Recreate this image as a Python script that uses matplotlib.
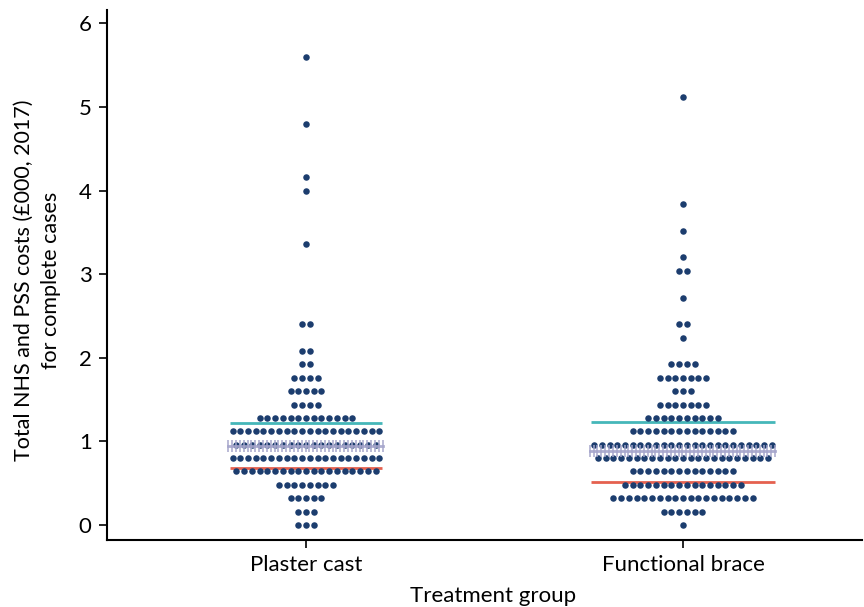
import matplotlib
matplotlib.use("Agg")
import matplotlib.pyplot as plt
import numpy as np

plt.rcParams['font.family'] = ['Lato', 'DejaVu Sans']

# dot rows (bin value in £000) and number of patients in each row
groups = ["Plaster cast", "Functional brace"]

pc_levels = [0.0, 0.16, 0.32, 0.48, 0.64, 0.80, 0.96, 1.12, 1.28, 1.44, 1.60,
             1.76, 1.92, 2.08, 2.40, 3.36, 4.00, 4.16, 4.80, 5.60]
pc_counts = [3, 3, 5, 8, 19, 20, 19, 20, 13, 4, 5,
             4, 2, 2, 2, 1, 1, 1, 1, 1]

fb_levels = [0.0, 0.16, 0.32, 0.48, 0.64, 0.80, 0.96, 1.12, 1.28, 1.44, 1.60,
             1.76, 1.92, 2.24, 2.40, 2.72, 3.04, 3.20, 3.52, 3.84, 5.12]
fb_counts = [1, 6, 19, 16, 14, 23, 24, 14, 10, 7, 3,
             7, 4, 1, 2, 1, 2, 1, 1, 1, 1]

# summary lines: median, lower quartile, upper quartile
medians = [0.948, 0.888]
q25 = [0.677, 0.514]
q75 = [1.219, 1.227]

navy = "#1c3d6e"
teal = "#45b7b9"
red = "#e5614f"
lav = "#a5a5cb"

fig = plt.figure(figsize=(8.64, 6.07), dpi=100)
ax = fig.add_axes([0.1238, 0.1104, 0.8739, 0.8731])

step = 0.0205   # horizontal gap between dots (data units)
rad = 0.0075

for i, (lv, ct) in enumerate([(pc_levels, pc_counts), (fb_levels, fb_counts)]):
    xs, ys = [], []
    for v, n in zip(lv, ct):
        xs.extend(i + (np.arange(n) - (n - 1) / 2) * step)
        ys.extend([v] * n)
    ax.scatter(xs, ys, s=22, color=navy, linewidths=0, zorder=3)

    hw = (max(ct) - 1) / 2 * step + rad
    ax.hlines(q75[i], i - hw, i + hw, color=teal, lw=2, zorder=2)
    ax.hlines(q25[i], i - hw, i + hw, color=red, lw=2, zorder=2)
    mx = np.arange(i - hw - 0.004, i + hw + 0.006, step / 2)
    ax.plot(mx, [medians[i]] * len(mx), color=lav, lw=2, marker='|',
            ms=9, mew=1.2, zorder=4, alpha=0.9)

ax.set_xlim(-0.528, 1.475)
ax.set_ylim(-0.18, 6.16)
ax.set_xticks([0, 1])
ax.set_xticklabels(groups)
ax.set_yticks(range(7))

for s in ['top', 'right']:
    ax.spines[s].set_visible(False)
for s in ['left', 'bottom']:
    ax.spines[s].set_linewidth(1.5)
ax.tick_params(axis='both', length=6, width=1.2, labelsize=16, pad=5)

ax.set_xlabel("Treatment group", fontsize=16)
ax.xaxis.set_label_coords(0.511, -0.087)
ax.set_ylabel("Total NHS and PSS costs (£000, 2017)\nfor complete cases",
              fontsize=15.5, linespacing=1.45)
ax.yaxis.set_label_coords(-0.061, 0.49)

fig.savefig("out.png", dpi=100)
